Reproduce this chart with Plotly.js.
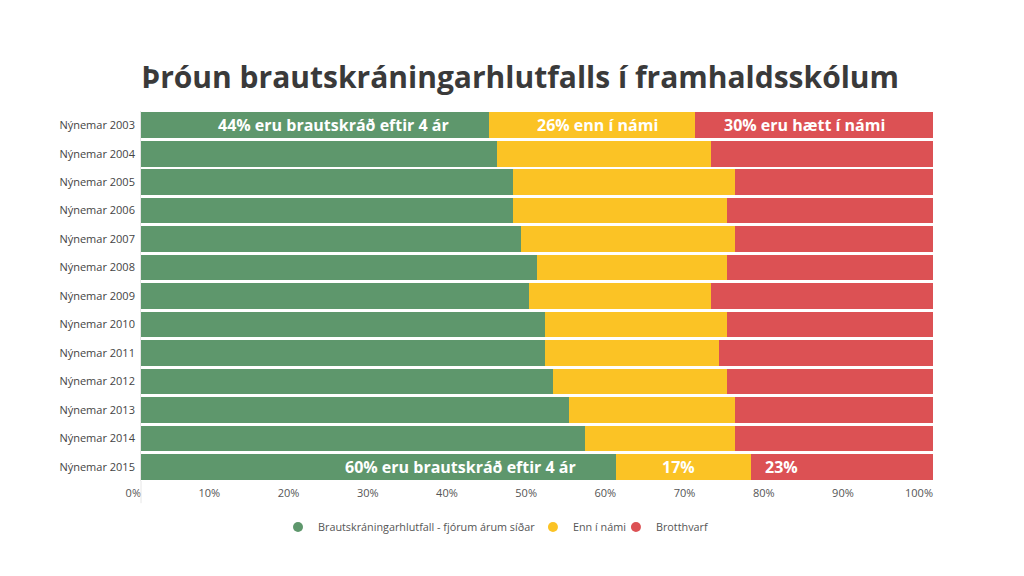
<!DOCTYPE html>
<html>
<head>
<meta charset="utf-8">
<script src="https://cdn.plot.ly/plotly-3.0.1.min.js"></script>
<style>html,body{margin:0;padding:0;background:#fff;}#chart{width:1024px;height:576px;}</style>
</head>
<body>
<div id="chart"></div>
<script>
const categories = ["Nýnemar 2003","Nýnemar 2004","Nýnemar 2005","Nýnemar 2006","Nýnemar 2007","Nýnemar 2008","Nýnemar 2009","Nýnemar 2010","Nýnemar 2011","Nýnemar 2012","Nýnemar 2013","Nýnemar 2014","Nýnemar 2015"];
const graduated = [44,45,47,47,48,50,49,51,51,52,54,56,60];
const studying  = [26,27,28,27,27,24,23,23,22,22,21,19,17];
const dropout   = [30,28,25,26,25,26,28,26,27,26,25,25,23];
const seriesNames = ["Brautskráningarhlutfall - fjórum árum síðar","Enn í námi","Brotthvarf"];
const colors = ["#5e976c","#fbc325","#dc5154"];
const tickVals = [0,10,20,30,40,50,60,70,80,90,100];
const tickText = ["0%","10%","20%","30%","40%","50%","60%","70%","80%","90%","100%"];
const titleText = "Þróun brautskráningarhlutfalls í framhaldsskólum";
const labels2003 = ["44% eru brautskráð eftir 4 ár","26% enn í námi","30% eru hætt í námi"];
const labels2015 = ["60% eru brautskráð eftir 4 ár","17%","23%"];

const FONT = "Open Sans, Lato, sans-serif";
const series = [graduated, studying, dropout];
const legendIds = ["legend", "legend2", "legend3"];
const traces = series.map((vals, i) => ({
  type: "bar", orientation: "h", x: vals, y: categories, name: seriesNames[i],
  marker: {color: colors[i], line: {width: 0}}, showlegend: false, hoverinfo: "x+name"
}));
// legend entries with circle markers
seriesNames.forEach((n, i) => traces.push({
  type: "scatter", mode: "markers", x: [null], y: [null], name: n, legend: legendIds[i],
  marker: {color: colors[i], size: 10, symbol: "circle"}, showlegend: true
}));

const annotations = [];
const last = categories.length - 1;
function addLabels(idx, labels, midShift) {
  const g = graduated[idx], s = studying[idx];
  const c = categories[idx];
  annotations.push({x: g, y: c, xref: "x", yref: "y", text: labels[0], showarrow: false, xanchor: "right", xshift: -38});
  annotations.push({x: g + s / 2, y: c, xref: "x", yref: "y", text: labels[1], showarrow: false, xanchor: "center", xshift: midShift});
}
addLabels(0, labels2003, 5);
annotations.push({x: graduated[0] + studying[0] + dropout[0] / 2, y: categories[0], xref: "x", yref: "y", text: labels2003[2], showarrow: false, xanchor: "center", xshift: -10});
addLabels(last, labels2015, -5);
annotations.push({x: graduated[last] + studying[last], y: categories[last], xref: "x", yref: "y", text: labels2015[2], showarrow: false, xanchor: "left", xshift: 12});
annotations.forEach(a => a.font = {family: FONT, size: 16, color: "#ffffff", weight: 700});

const legendBase = {orientation: "h", xref: "paper", xanchor: "left", yref: "paper", y: -0.085, yanchor: "top",
  font: {family: FONT, size: 10.8, color: "#555"}, itemwidth: 30, bgcolor: "rgba(0,0,0,0)"};
const legendX = [0.1730, 0.4949, 0.5997];

const layout = {
  width: 1024, height: 576,
  paper_bgcolor: "#ffffff", plot_bgcolor: "#ffffff",
  margin: {l: 141, r: 91, t: 111, b: 95, autoexpand: false},
  barmode: "stack", bargap: 0.1,
  title: {text: titleText, x: 0.508, xanchor: "center", y: 0.865, yanchor: "middle",
          font: {family: FONT, size: 30, color: "#3a3a3a", weight: 700}},
  xaxis: {range: [0, 100], tickvals: tickVals, ticktext: tickText, showgrid: false, zeroline: false,
          ticklabelposition: "outside left", ticks: "", showline: false, ticklabelstandoff: 4,
          tickfont: {family: FONT, size: 11, color: "#555"}, fixedrange: true},
  yaxis: {autorange: "reversed", showgrid: false, zeroline: false, ticks: "", showline: true,
          linecolor: "#e6e6e6", linewidth: 1,
          tickfont: {family: FONT, size: 11, color: "#444"}, ticksuffix: " ", fixedrange: true},
  shapes: [{type: "line", xref: "paper", yref: "paper", x0: 0, x1: 0, y0: 0, y1: -0.06,
            line: {color: "#e6e6e6", width: 1}}],
  annotations: annotations,
  showlegend: true
};
legendIds.forEach((id, i) => { layout[id] = Object.assign({}, legendBase, {x: legendX[i]}); });
Plotly.newPlot("chart", traces, layout, {displayModeBar: false, staticPlot: true});
</script>
</body>
</html>
